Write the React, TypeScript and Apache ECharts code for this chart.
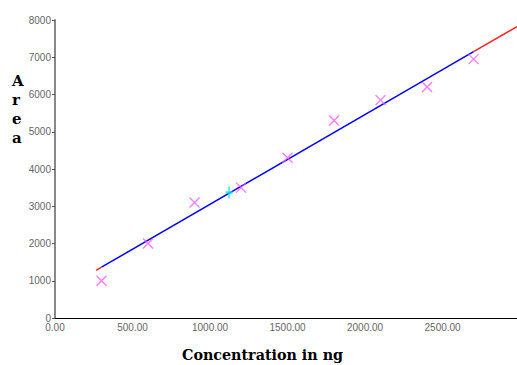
import React, { useEffect, useRef } from "react";
import * as echarts from "echarts";

const concentration = [300, 600, 900, 1200, 1500, 1800, 2100, 2400, 2700];
const area = [1000, 2000, 3100, 3500, 4300, 5300, 5850, 6200, 6950];
const unknownPoint = [[1123, 3370]];
const fitBlue = [[300, 1364], [2700, 7150]];
const fitRedStart = [[265, 1280], [300, 1364]];
const fitRedEnd = [[2700, 7150], [2980, 7820]];
const xTicks = [0, 500, 1000, 1500, 2000, 2500];
const yTicks = [0, 1000, 2000, 3000, 4000, 5000, 6000, 7000, 8000];

export default function App() {
  const ref = useRef<HTMLDivElement>(null);
  useEffect(() => {
    if (!ref.current) return;
    const chart = echarts.init(ref.current, null, { renderer: "svg" });
    const scatterData = concentration.map((c, i) => [c, area[i]]);
    chart.setOption({
      animation: false,
      backgroundColor: "#fff",
      grid: { left: 55, right: 0, top: 20, bottom: 47 },
      xAxis: {
        type: "value",
        min: xTicks[0],
        max: 2980,
        interval: 500,
        splitLine: { show: false },
        axisLine: { show: true, onZero: false, lineStyle: { color: "#000", width: 1 } },
        axisTick: { show: false },
        axisLabel: {
          showMaxLabel: false,
          color: "#666",
          fontSize: 10,
          fontFamily: "Liberation Sans",
          margin: 4,
          formatter: (v: number) => (xTicks.includes(v) ? v.toFixed(2) : ""),
        },
      },
      yAxis: {
        type: "value",
        min: yTicks[0],
        max: yTicks[yTicks.length - 1],
        interval: 1000,
        splitLine: { show: false },
        axisLine: { show: true, lineStyle: { color: "#888", width: 2 } },
        axisTick: { show: true, length: 3, lineStyle: { color: "#555" } },
        axisLabel: {
          color: "#666",
          fontSize: 10,
          fontFamily: "Liberation Sans",
          margin: 4,
          formatter: (v: number) => String(v),
        },
      },
      graphic: [
        {
          type: "text",
          left: 12,
          top: 71,
          style: {
            text: "A\nr\ne\na",
            font: "bold 15px 'DejaVu Serif'",
            lineHeight: 19,
            fill: "#000",
            align: "center",
          },
        },
        {
          type: "text",
          left: 182,
          top: 348,
          style: {
            text: "Concentration in ng",
            font: "bold 14.3px 'DejaVu Serif'",
            fill: "#000",
          },
        },
      ],
      series: [
        {
          type: "line",
          data: fitBlue,
          symbol: "none",
          lineStyle: { color: "#0000ff", width: 1.5 },
          z: 2,
        },
        {
          type: "line",
          data: fitRedStart,
          symbol: "none",
          lineStyle: { color: "#ff2020", width: 1.5 },
          z: 2,
        },
        {
          type: "line",
          data: fitRedEnd,
          symbol: "none",
          lineStyle: { color: "#ff2020", width: 1.5 },
          z: 2,
        },
        {
          type: "scatter",
          data: scatterData,
          symbol: "path://M0,0L10,10M10,0L0,10",
          symbolSize: 10,
          itemStyle: { color: "none", borderColor: "#ff55ff", borderWidth: 1.3 },
          z: 3,
        },
        {
          type: "scatter",
          data: unknownPoint,
          symbol: "path://M4,0L4,12M1,6L7,6",
          symbolSize: [7, 12],
          itemStyle: { color: "none", borderColor: "#00e0ff", borderWidth: 2 },
          z: 4,
        },
      ],
    });
    return () => chart.dispose();
  }, []);
  return (
    <div
      ref={ref}
      style={{ position: "fixed", left: 0, top: 0, width: 517, height: 365 }}
    />
  );
}
